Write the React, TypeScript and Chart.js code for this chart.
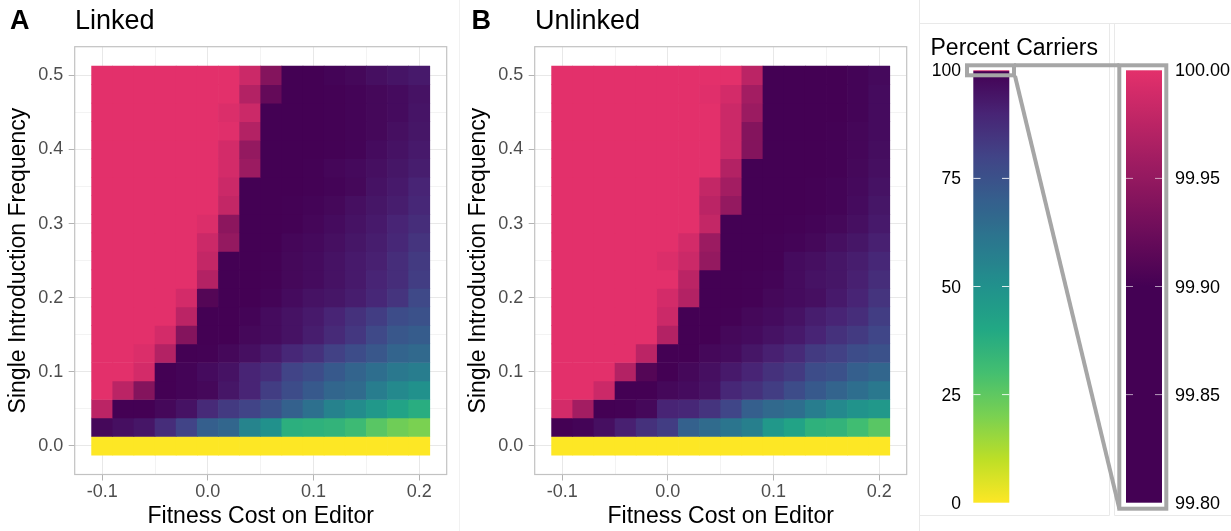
import React, { useEffect, useRef } from 'react';
import { Chart, registerables } from 'chart.js';

Chart.register(...registerables);

// ---------- data ----------
const fitnessCosts = [-0.1, -0.08, -0.06, -0.04, -0.02, 0, 0.02, 0.04, 0.06, 0.08, 0.1, 0.12, 0.14, 0.16, 0.18, 0.2];
const introFreqs = [0, 0.025, 0.05, 0.075, 0.1, 0.125, 0.15, 0.175, 0.2, 0.225, 0.25, 0.275, 0.3, 0.325, 0.35, 0.375, 0.4, 0.425, 0.45, 0.475, 0.5];

const xMajorTicks = [-0.1, 0, 0.1, 0.2];
const xTickLabels = ['-0.1', '0.0', '0.1', '0.2'];
const xMinorTicks = [-0.05, 0.05, 0.15];
const yMajorTicks = [0, 0.1, 0.2, 0.3, 0.4, 0.5];
const yTickLabels = ['0.0', '0.1', '0.2', '0.3', '0.4', '0.5'];
const yMinorTicks = [0.05, 0.15, 0.25, 0.35, 0.45];

const legendMainTicks = [0, 25, 50, 75, 100];
const legendMainLabels = ['0', '25', '50', '75', '100'];
const legendZoomTicks = [99.8, 99.85, 99.9, 99.95, 100];
const legendZoomLabels = ['99.80', '99.85', '99.90', '99.95', '100.00'];

// percent carriers, rows from introduction frequency 0 (bottom) to 0.5 (top)
const linkedCarriers: number[][] = [
  [0, 0, 0, 0, 0, 0, 0, 0, 0, 0, 0, 0, 0, 0, 0, 0],
  [98, 96, 94, 87, 80, 70, 67, 55, 50, 37, 36, 35, 32, 26, 22, 20],
  [99.975, 99.85, 99.85, 98, 95, 88, 83, 80, 75, 69, 63, 56, 52, 47, 42, 38],
  [100, 99.975, 99.94, 99.85, 99, 98, 94, 90, 82, 77, 72, 67, 65, 58, 53, 50],
  [100, 100, 99.99, 99.85, 99, 97, 95, 90, 87, 80, 77, 72, 68, 64, 60, 58],
  [100, 100, 99.995, 99.97, 99.85, 99.5, 98, 96, 93, 89, 86, 81, 77, 73, 68, 66],
  [100, 100, 100, 99.99, 99.94, 99.85, 99.85, 98, 97, 95, 92, 88, 84, 78, 73, 71],
  [100, 100, 100, 100, 99.975, 99.85, 99.85, 99, 97, 95, 93, 90, 86, 82, 77, 75],
  [100, 100, 100, 100, 99.99, 99.91, 99.85, 99.85, 99, 97, 95, 94, 92, 89, 85, 78],
  [100, 100, 100, 100, 100, 99.97, 99.85, 99.85, 99.5, 98, 97, 95, 93, 90, 87, 82],
  [100, 100, 100, 100, 100, 99.98, 99.85, 99.85, 99.5, 98, 97, 95, 93, 91, 87, 83],
  [100, 100, 100, 100, 100, 99.985, 99.95, 99.85, 99.85, 98.5, 97.5, 96, 94, 92, 89, 85],
  [100, 100, 100, 100, 100, 99.995, 99.945, 99.85, 99.85, 99.5, 98.5, 97, 95, 93, 90, 87],
  [100, 100, 100, 100, 100, 100, 99.98, 99.85, 99.85, 99.5, 99, 98, 96, 94, 92, 89],
  [100, 100, 100, 100, 100, 100, 99.985, 99.85, 99.85, 99.85, 99.5, 99, 98, 95, 93, 90],
  [100, 100, 100, 100, 100, 100, 99.99, 99.955, 99.85, 99.85, 99.5, 98.5, 97.5, 96, 94, 92],
  [100, 100, 100, 100, 100, 100, 99.99, 99.95, 99.85, 99.85, 99.85, 99.5, 99, 97, 95, 93],
  [100, 100, 100, 100, 100, 100, 99.998, 99.97, 99.85, 99.85, 99.85, 99.5, 99, 98, 96, 94],
  [100, 100, 100, 100, 100, 100, 99.995, 99.985, 99.85, 99.85, 99.85, 99.5, 99, 98, 97, 94.5],
  [100, 100, 100, 100, 100, 100, 100, 99.97, 99.92, 99.85, 99.85, 99.5, 99, 98, 97, 95],
  [100, 100, 100, 100, 100, 100, 100, 99.985, 99.94, 99.85, 99.85, 99, 98, 96, 94.5, 93],
];

const unlinkedCarriers: number[][] = [
  [0, 0, 0, 0, 0, 0, 0, 0, 0, 0, 0, 0, 0, 0, 0, 0],
  [99.85, 99, 96, 91, 86, 82, 69, 65, 61, 57, 47, 42, 36, 35, 31, 26],
  [99.99, 99.96, 99.85, 99.5, 98, 90, 89, 85, 79, 70, 66, 64, 58, 53, 49, 47],
  [100, 100, 99.985, 99.85, 99.85, 98, 97, 95, 89, 86, 82, 77, 72, 68, 64, 60],
  [100, 100, 100, 99.97, 99.91, 99.85, 98, 96, 93, 90, 86, 83, 77, 75, 70, 67],
  [100, 100, 100, 100, 99.975, 99.85, 99.85, 98, 97, 94, 91, 88, 83, 81, 77, 75],
  [100, 100, 100, 100, 100, 99.97, 99.85, 99.85, 98, 97, 95, 93, 90, 86, 83, 79],
  [100, 100, 100, 100, 100, 99.985, 99.85, 99.85, 99.5, 98, 97, 95, 92, 90, 87, 82],
  [100, 100, 100, 100, 100, 99.99, 99.97, 99.85, 99.85, 99.5, 98, 97, 96, 93, 90, 85],
  [100, 100, 100, 100, 100, 100, 99.975, 99.85, 99.85, 99.5, 99, 97, 95, 94, 91, 87],
  [100, 100, 100, 100, 100, 99.995, 99.985, 99.95, 99.85, 99.85, 99.5, 97, 96, 94, 92, 89],
  [100, 100, 100, 100, 100, 100, 99.99, 99.955, 99.85, 99.85, 99.5, 99, 98, 96, 94, 91],
  [100, 100, 100, 100, 100, 100, 100, 99.98, 99.85, 99.85, 99.85, 99.5, 99, 98, 96, 93],
  [100, 100, 100, 100, 100, 100, 100, 99.975, 99.95, 99.85, 99.85, 99.85, 99.5, 99, 97, 94],
  [100, 100, 100, 100, 100, 100, 100, 99.98, 99.96, 99.85, 99.85, 99.85, 99.5, 99, 97.5, 95],
  [100, 100, 100, 100, 100, 100, 100, 100, 99.97, 99.85, 99.85, 99.85, 99.85, 99.5, 98, 96],
  [100, 100, 100, 100, 100, 100, 100, 100, 99.985, 99.94, 99.85, 99.85, 99.85, 99.5, 98.5, 96.5],
  [100, 100, 100, 100, 100, 100, 100, 100, 99.985, 99.94, 99.85, 99.85, 99.85, 99.5, 98.5, 97],
  [100, 100, 100, 100, 100, 100, 100, 100, 99.985, 99.955, 99.85, 99.85, 99.85, 99.85, 99, 97],
  [100, 100, 100, 100, 100, 100, 100, 99.998, 99.99, 99.96, 99.85, 99.85, 99.85, 99.85, 99, 97],
  [100, 100, 100, 100, 100, 100, 100, 100, 100, 99.975, 99.85, 99.85, 99.85, 99.85, 99, 97.5],
];

// ---------- colour scale ----------
const VIRIDIS = ['#440154', '#482475', '#414487', '#355f8d', '#2a788e', '#21918c', '#22a884', '#44bf70', '#7ad151', '#bddf26', '#fde725'];
const PEAK = '#e3306b';
const SWITCH = 99.9;

function hexRgb(h: string): number[] {
  return [parseInt(h.slice(1, 3), 16), parseInt(h.slice(3, 5), 16), parseInt(h.slice(5, 7), 16)];
}
function mix(a: string, b: string, f: number): string {
  const A = hexRgb(a), B = hexRgb(b);
  const c = A.map((v, i) => Math.round(v + (B[i] - v) * f));
  return `rgb(${c[0]},${c[1]},${c[2]})`;
}
function carrierColor(v: number): string {
  if (v >= SWITCH) {
    const f = Math.min(1, (v - SWITCH) / (100 - SWITCH));
    return mix(VIRIDIS[0], PEAK, f);
  }
  const t = Math.max(0, Math.min(1, 1 - v / SWITCH)) * (VIRIDIS.length - 1);
  const i = Math.min(VIRIDIS.length - 2, Math.floor(t));
  return mix(VIRIDIS[i], VIRIDIS[i + 1], t - i);
}

// ---------- chart ----------
const FONT = "'Liberation Sans', Arial, Helvetica, sans-serif";
const near = (a: number, b: number) => Math.abs(a - b) < 1e-9;
const isIn = (v: number, arr: number[]) => arr.some((m) => near(m, v));
const labelFor = (v: number, majors: number[], labels: string[]) => {
  const i = majors.findIndex((m) => near(m, v));
  return i >= 0 ? labels[i] : '';
};
const tickVal = (c: any): number | null => (c && c.tick && typeof c.tick.value === 'number' ? c.tick.value : null);

const panelBorder = {
  id: 'panelBorder',
  afterDraw(chart: any) {
    const { ctx, chartArea: a } = chart;
    ctx.save();
    ctx.strokeStyle = '#c2c2c2';
    ctx.lineWidth = 1.2;
    ctx.strokeRect(a.left, a.top, a.right - a.left, a.bottom - a.top);
    ctx.restore();
  },
};

function HeatPanel({ values, left }: { values: number[][]; left: number }) {
  const ref = useRef<HTMLCanvasElement>(null);
  useEffect(() => {
    const halfX = (fitnessCosts[1] - fitnessCosts[0]) / 2;
    const halfY = (introFreqs[1] - introFreqs[0]) / 2;
    const x0 = fitnessCosts[0] - halfX, x1 = fitnessCosts[fitnessCosts.length - 1] + halfX;
    const y0 = introFreqs[0] - halfY, y1 = introFreqs[introFreqs.length - 1] + halfY;
    const px = (x1 - x0) * 0.05, py = (y1 - y0) * 0.05;

    const points: any[] = [];
    const colors: string[] = [];
    introFreqs.forEach((f, r) => {
      fitnessCosts.forEach((x, c) => {
        points.push({ x, y: [f - halfY, f + halfY] });
        colors.push(carrierColor(values[r][c]));
      });
    });

    const xTicks = [...xMajorTicks, ...xMinorTicks].sort((a, b) => a - b);
    const yTicks = [...yMajorTicks, ...yMinorTicks].sort((a, b) => a - b);

    const gridColor = (majors: number[]) => (c: any) => {
      const v = tickVal(c);
      if (v === null) return 'rgba(0,0,0,0)';
      return isIn(v, majors) ? '#e8e8e8' : '#f3f3f3';
    };
    const tickColor = (majors: number[]) => (c: any) => {
      const v = tickVal(c);
      if (v === null) return 'rgba(0,0,0,0)';
      return isIn(v, majors) ? '#b3b3b3' : 'rgba(0,0,0,0)';
    };

    const chart = new Chart(ref.current!, {
      type: 'bar',
      data: {
        datasets: [
          {
            data: points,
            backgroundColor: colors,
            borderWidth: 0,
            categoryPercentage: 1,
            barPercentage: 1,
          } as any,
        ],
      },
      options: {
        responsive: false,
        animation: false,
        layout: { padding: { top: 46.7, right: 8.3, left: 0, bottom: 0 } },
        plugins: { legend: { display: false }, tooltip: { enabled: false } },
        scales: {
          x: {
            type: 'linear',
            min: x0 - px,
            max: x1 + px,
            bounds: 'data',
            offset: false,
            afterBuildTicks: (s: any) => {
              s.ticks = xTicks.map((value) => ({ value }));
            },
            afterFit: (s: any) => {
              s.height = 56.5;
            },
            ticks: {
              autoSkip: false,
              maxRotation: 0,
              minRotation: 0,
              padding: 0.5,
              color: '#4d4d4d',
              font: { family: FONT, size: 18 },
              callback: (v: any) => labelFor(Number(v), xMajorTicks, xTickLabels),
            },
            grid: {
              offset: false,
              color: gridColor(xMajorTicks),
              lineWidth: 1,
              tickLength: 6,
              tickColor: tickColor(xMajorTicks),
            },
            border: { display: false },
            title: {
              display: true,
              text: 'Fitness Cost on Editor',
              color: '#000',
              font: { family: FONT, size: 23 },
              padding: { top: 0, bottom: 1 },
            },
          } as any,
          y: {
            type: 'linear',
            min: y0 - py,
            max: y1 + py,
            bounds: 'data',
            offset: false,
            afterBuildTicks: (s: any) => {
              s.ticks = yTicks.map((value) => ({ value }));
            },
            afterFit: (s: any) => {
              s.width = 74.7;
            },
            ticks: {
              autoSkip: false,
              padding: 5.5,
              color: '#4d4d4d',
              font: { family: FONT, size: 18 },
              callback: (v: any) => labelFor(Number(v), yMajorTicks, yTickLabels),
            },
            grid: {
              offset: false,
              color: gridColor(yMajorTicks),
              lineWidth: 1,
              tickLength: 6,
              tickColor: tickColor(yMajorTicks),
            },
            border: { display: false },
            title: {
              display: true,
              text: 'Single Introduction Frequency',
              color: '#000',
              font: { family: FONT, size: 23 },
              padding: { top: 5, bottom: 0 },
            },
          } as any,
        },
      },
      plugins: [panelBorder],
    });
    return () => chart.destroy();
  }, [values]);
  return (
    <canvas
      ref={ref}
      width={455}
      height={531}
      style={{ position: 'absolute', left, top: 0, width: 455, height: 531 }}
    />
  );
}

// ---------- legend ----------
function Legend() {
  const barTop = 70.3, barBottom = 502.7, barH = barBottom - barTop;
  const mainY = (v: number) => barBottom - (v / 100) * barH;
  const zLo = legendZoomTicks[0], zHi = legendZoomTicks[legendZoomTicks.length - 1];
  const zoomY = (v: number) => barBottom - ((v - zLo) / (zHi - zLo)) * barH;

  const mainStops: { o: number; c: string }[] = [];
  for (let v = 0; v <= 99.5; v += 2.5) mainStops.push({ o: v / 100, c: carrierColor(v) });
  mainStops.push({ o: 0.9965, c: carrierColor(SWITCH) });
  mainStops.push({ o: 0.9985, c: carrierColor(99.95) });
  mainStops.push({ o: 1, c: carrierColor(100) });

  const zoomStops: { o: number; c: string }[] = [];
  for (let i = 0; i <= 40; i++) {
    const v = zLo + ((zHi - zLo) * i) / 40;
    zoomStops.push({ o: i / 40, c: carrierColor(v) });
  }

  const faint = '#e9e9e9';
  const boxGrey = '#a6a6a6';
  return (
    <svg
      width={1231}
      height={531}
      style={{ position: 'absolute', left: 0, top: 0, pointerEvents: 'none' }}
      fontFamily={FONT}
    >
      <defs>
        <linearGradient id="gMain" x1="0" y1="1" x2="0" y2="0">
          {mainStops.map((s, i) => (
            <stop key={i} offset={s.o} stopColor={s.c} />
          ))}
        </linearGradient>
        <linearGradient id="gZoom" x1="0" y1="1" x2="0" y2="0">
          {zoomStops.map((s, i) => (
            <stop key={i} offset={s.o} stopColor={s.c} />
          ))}
        </linearGradient>
      </defs>

      {/* faint plot backgrounds */}
      <line x1={459.5} y1={0} x2={459.5} y2={531} stroke="#f1f1f1" strokeWidth={1} />
      <line x1={919.5} y1={0} x2={919.5} y2={531} stroke={faint} strokeWidth={1} />
      <line x1={919} y1={23.5} x2={1231} y2={23.5} stroke={faint} strokeWidth={1} />
      <line x1={919} y1={515.5} x2={1109.5} y2={515.5} stroke={faint} strokeWidth={1} />
      <line x1={1114.5} y1={515.5} x2={1231} y2={515.5} stroke={faint} strokeWidth={1} />
      <line x1={1109.5} y1={23.5} x2={1109.5} y2={515.5} stroke={faint} strokeWidth={1} />
      <line x1={1114.5} y1={23.5} x2={1114.5} y2={515.5} stroke={faint} strokeWidth={1} />

      {/* panel titles */}
      <text x={10} y={28.5} fontSize={27} fontWeight="bold" fill="#000">A</text>
      <text x={75} y={28.5} fontSize={27} fill="#000">Linked</text>
      <text x={471.5} y={28.5} fontSize={27} fontWeight="bold" fill="#000">B</text>
      <text x={535} y={28.5} fontSize={27} fill="#000">Unlinked</text>

      {/* legend */}
      <text x={930.5} y={54.5} fontSize={23} fill="#000">Percent Carriers</text>
      <rect x={973.3} y={barTop} width={36} height={barH} fill="url(#gMain)" />
      {legendMainTicks.slice(1, -1).map((v) => (
        <g key={v}>
          <line x1={973.3} y1={mainY(v)} x2={980.5} y2={mainY(v)} stroke="#fff" strokeWidth={1} opacity={0.85} />
          <line x1={1002} y1={mainY(v)} x2={1009.3} y2={mainY(v)} stroke="#fff" strokeWidth={1} opacity={0.85} />
        </g>
      ))}
      {legendMainTicks.map((v, i) => (
        <text key={v} x={961} y={mainY(v)} fontSize={17.5} fill="#000" textAnchor="end" dominantBaseline="central">
          {legendMainLabels[i]}
        </text>
      ))}

      <rect x={1126} y={barTop} width={36} height={barH} fill="url(#gZoom)" />
      {legendZoomTicks.slice(1, -1).map((v) => (
        <g key={v}>
          <line x1={1126} y1={zoomY(v)} x2={1133} y2={zoomY(v)} stroke="#fff" strokeWidth={1} opacity={0.6} />
          <line x1={1155} y1={zoomY(v)} x2={1162} y2={zoomY(v)} stroke="#fff" strokeWidth={1} opacity={0.6} />
        </g>
      ))}
      {legendZoomTicks.map((v, i) => (
        <text key={v} x={1175} y={zoomY(v)} fontSize={18} fill="#000" textAnchor="start" dominantBaseline="central">
          {legendZoomLabels[i]}
        </text>
      ))}

      {/* zoom indicator */}
      <rect x={967} y={65.3} width={47} height={10} fill="none" stroke={boxGrey} strokeWidth={4} />
      <line x1={1014} y1={65.3} x2={1119.3} y2={65.3} stroke={boxGrey} strokeWidth={4} />
      <line x1={1015} y1={76} x2={1119.3} y2={508.5} stroke={boxGrey} strokeWidth={4} />
      <rect x={1119.3} y={65.3} width={47} height={443.4} fill="none" stroke={boxGrey} strokeWidth={4} />
    </svg>
  );
}

export default function App() {
  return (
    <div
      style={{
        position: 'fixed',
        left: 0,
        top: 0,
        width: 1231,
        height: 531,
        background: '#fff',
        overflow: 'hidden',
      }}
    >
      <HeatPanel values={linkedCarriers} left={0} />
      <HeatPanel values={unlinkedCarriers} left={460} />
      <Legend />
    </div>
  );
}
